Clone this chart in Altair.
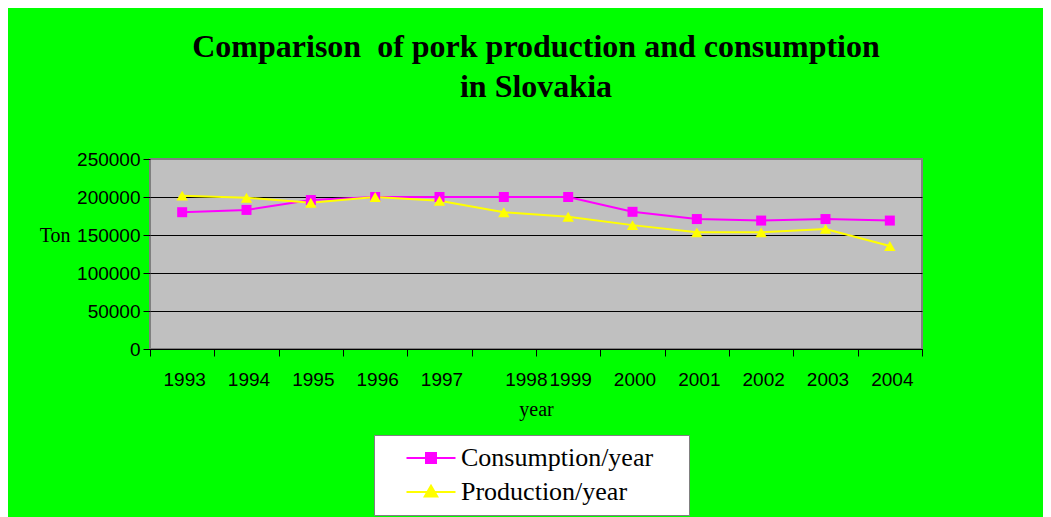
import altair as alt
import pandas as pd

years = ["1993", "1994", "1995", "1996", "1997", "1998", "1999", "2000", "2001", "2002", "2003", "2004"]
consumption = [180000, 183000, 196000, 200000, 200000, 200000, 200000, 180500, 171000, 169000, 171000, 169000]
production = [201800, 199000, 192500, 200000, 195000, 180000, 174000, 163000, 153500, 153500, 158000, 135500]
series_names = ["Consumption/year", "Production/year"]
series_colors = ["#FF00FF", "#FFFF00"]
y_ticks = [0, 50000, 100000, 150000, 200000, 250000]

df_c = pd.DataFrame({"year": years, "value": consumption, "series": series_names[0]})
df_p = pd.DataFrame({"year": years, "value": production, "series": series_names[1]})
df_all = pd.concat([df_c, df_p], ignore_index=True)

x_enc = alt.X(
    "year:O",
    bandPosition=0.5,
    scale=alt.Scale(type="band", paddingInner=0, paddingOuter=0),
    axis=alt.Axis(
        title="year",
        labelAngle=0,
        labelFont="Liberation Sans",
        labelFontSize=19,
        labelColor="black",
        labelPadding=14,
        labelOffset={"condition": {"test": "datum.value == '1998'", "value": 22}, "value": 2},
        tickColor="black",
        tickSize=7,
        tickBand="extent",
        domainColor="black",
        domainWidth=1,
        grid=False,
        titleFont="Liberation Serif",
        titleFontSize=20,
        titleFontWeight="normal",
        titleColor="black",
        titlePadding=10,
    ),
)

y_enc = alt.Y(
    "value:Q",
    scale=alt.Scale(domain=[0, 250000], nice=False, zero=True),
    axis=alt.Axis(
        values=y_ticks,
        format="d",
        title="Ton",
        titleAngle=0,
        titleAlign="right",
        titleBaseline="middle",
        titleX=-80,
        titleY=76,
        titleFont="Liberation Serif",
        titleFontSize=20,
        titleFontWeight="normal",
        titleColor="black",
        labelFont="Liberation Sans",
        labelFontSize=19,
        labelColor="black",
        labelPadding=3,
        tickColor="black",
        tickSize=7,
        domain=False,
        grid=True,
        gridColor={"condition": {"test": "datum.value == 250000", "value": "#808080"}, "value": "black"},
        gridWidth=1,
    ),
)

line_c = alt.Chart(df_c).mark_line(color=series_colors[0], strokeWidth=2).encode(x=x_enc, y=y_enc)
line_p = alt.Chart(df_p).mark_line(color=series_colors[1], strokeWidth=2).encode(x=x_enc, y=y_enc)
pt_c = alt.Chart(df_c).mark_point(shape="square", filled=True, color=series_colors[0], size=100, opacity=1).encode(x=x_enc, y=y_enc)
pt_p = alt.Chart(df_p).mark_point(shape="triangle-up", filled=True, color=series_colors[1], size=130, opacity=1).encode(x=x_enc, y=y_enc)

# legend symbols: a short line with the marker in the middle (size 100 -> 1 unit = 5px)
sq_path = "M-4.9,0H4.9M-1,-1H1V1H-1Z"
tri_path = "M-4.9,0H4.9M0,-1.25L1.25,0.9H-1.25Z"

leg = alt.Legend(
    title=None,
    orient="none",
    legendX=224,
    legendY=276,
    fillColor="white",
    strokeColor="#808080",
    padding=10,
    symbolSize=100,
    symbolStrokeWidth=2,
    symbolOffset=34,
    labelFont="Liberation Serif",
    labelFontSize=26,
    labelColor="black",
    labelOffset=17,
    labelLimit=500,
    rowPadding=8,
    labelExpr="datum.label + '\u00a0\u2800'",
)

legend_layer = alt.Chart(df_all).transform_filter("false").mark_point(filled=True, strokeWidth=2, opacity=1).encode(
    fill=alt.Fill("series:N", scale=alt.Scale(domain=series_names, range=series_colors), legend=leg),
    stroke=alt.Stroke("series:N", scale=alt.Scale(domain=series_names, range=series_colors), legend=leg),
    shape=alt.Shape("series:N", scale=alt.Scale(domain=series_names, range=[sq_path, tri_path]), legend=leg),
)

chart = alt.layer(line_c, line_p, pt_c, pt_p, legend_layer).properties(
    width=772,
    height=190,
    padding={"left": 142, "top": 151, "right": 121, "bottom": 168},
    autosize=alt.AutoSizeParams(type="none"),
    background="#00FF00",
    view=alt.ViewBackground(fill="#C0C0C0", stroke="#808080", strokeWidth=2),
    title=alt.TitleParams(
        text=["Comparison\u00a0 of pork production and consumption", "in Slovakia"],
        font="Liberation Serif",
        fontSize=32,
        fontWeight="bold",
        color="black",
        anchor="middle",
        offset=46,
        lineHeight=40,
    ),
).configure_view(fill="#C0C0C0", stroke="#808080", strokeWidth=2)

chart.save("out.html", embed_options={"renderer": "svg", "actions": False})
